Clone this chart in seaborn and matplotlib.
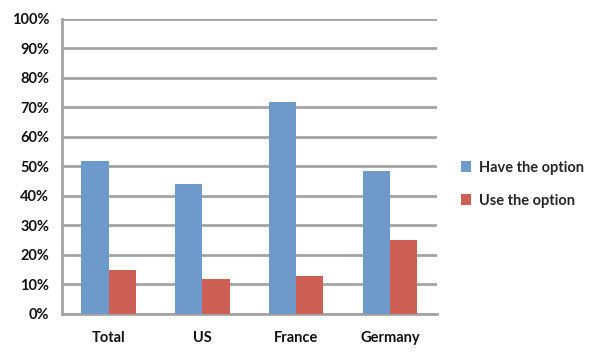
import matplotlib
matplotlib.use("Agg")
import matplotlib.pyplot as plt
import seaborn as sns
import pandas as pd
import numpy as np
from matplotlib.ticker import FixedLocator, PercentFormatter

categories = ["Total", "US", "France", "Germany"]
have_option = [52, 44, 72, 48.5]
use_option = [15, 12, 13, 25]
series_names = ["Have the option", "Use the option"]
colors = ["#6E99CB", "#CD5F55"]

df = pd.DataFrame({
    "Country": categories * 2,
    "Series": [series_names[0]] * 4 + [series_names[1]] * 4,
    "Value": have_option + use_option,
})

sns.set_style("white")
plt.rcParams["font.family"] = ["Lato", "DejaVu Sans"]
plt.rcParams["font.weight"] = "bold"

fig = plt.figure(figsize=(6, 3.63), dpi=100)
ax = fig.add_axes([0.103, 0.135, 0.625, 0.813])

sns.barplot(data=df, x="Country", y="Value", hue="Series", palette=colors,
            width=0.58, saturation=1, ax=ax, legend=True, zorder=3,
            linewidth=0)

ax.set_ylim(0, 100)
ax.set_xlim(-0.5, 3.5)
ax.set_yticks(np.arange(0, 101, 10))
ax.yaxis.set_major_formatter(PercentFormatter(decimals=0))
ax.yaxis.grid(True, color="#A3A3A3", linewidth=2, zorder=0)
ax.set_axisbelow(True)
ax.set_xlabel("")
ax.set_ylabel("")

for s in ["top", "right"]:
    ax.spines[s].set_visible(False)
for s in ["left", "bottom"]:
    ax.spines[s].set_color("#A3A3A3")
    ax.spines[s].set_linewidth(2)

ax.tick_params(axis="y", length=5, width=1.5, color="#A3A3A3", labelsize=10.5, pad=4)
ax.tick_params(axis="x", which="major", length=0, labelsize=10.5, pad=12)
ax.xaxis.set_minor_locator(FixedLocator([-0.5, 0.5, 1.5, 2.5, 3.5]))
ax.tick_params(axis="x", which="minor", length=5, width=1.5, color="#A3A3A3")
for lbl in ax.get_xticklabels() + ax.get_yticklabels():
    lbl.set_fontweight("bold")
    lbl.set_color("#111111")

handles, labels = ax.get_legend_handles_labels()
ax.legend(handles, labels, loc="center left", bbox_to_anchor=(1.03, 0.44),
          frameon=False, handlelength=0.7, handleheight=0.7, handletextpad=0.5,
          labelspacing=1.3, prop={"size": 10.5, "weight": "bold"})

fig.savefig("out.png", dpi=100)
